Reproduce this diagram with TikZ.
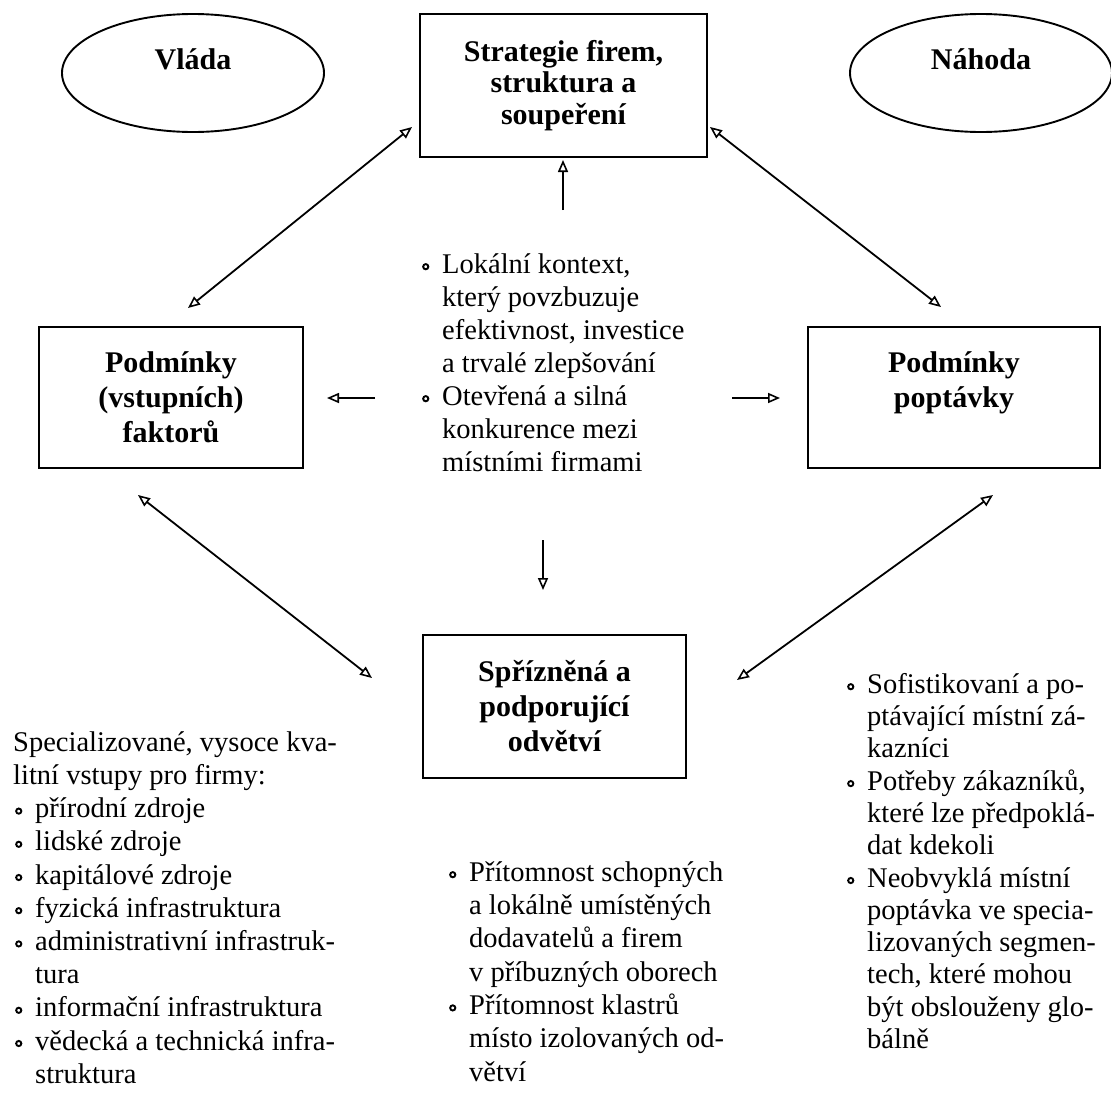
\documentclass[tikz,border=0pt]{standalone}
\usepackage{fontspec}
\setmainfont{Liberation Serif}
\usetikzlibrary{arrows.meta,shapes.geometric}
\newcommand\blt{\makebox[20pt][l]{\tikz[baseline={(0,-6.5pt)}]\draw[line width=1.9pt] (0,0) circle (2.6pt);}}
\newcommand\ind{\hspace*{20pt}}
\newcommand\fst{\rule{0pt}{25pt}}
\tikzset{
  boxnode/.style={draw, line width=2.3pt, align=center, inner sep=0pt,
    font=\bfseries\fontsize{30}{35}\selectfont},
  ellnode/.style={draw, ellipse, line width=1.9pt, inner sep=0pt,
    minimum width=262pt, minimum height=118pt, text height=20pt, text depth=28pt,
    font=\bfseries\fontsize{30}{35}\selectfont},
  txt/.style={align=left, inner sep=0pt, anchor=north west},
  arr/.style={line width=1.8pt, -{Triangle[open, length=12pt, width=10pt, line width=1.6pt]}},
  dbl/.style={line width=1.8pt, {Triangle[open, length=12pt, width=10pt, line width=1.6pt]}-{Triangle[open, length=12pt, width=10pt, line width=1.6pt]}}
}
\begin{document}
\begin{tikzpicture}[x=1pt,y=-1pt]
\useasboundingbox (0,0) rectangle (1111,1095);
\fill[white] (0,0) rectangle (1111,1095);

% ellipses
\node[ellnode] (V) at (193,73) {Vláda};
\node[ellnode] (N) at (981,73) {Náhoda};

% boxes
\node[boxnode, minimum width=287pt, minimum height=143pt,
  font=\bfseries\fontsize{30}{31.5}\selectfont] (S) at (563.5,85.5)
  {Strategie firem,\\struktura a\\soupeření};
\node[boxnode, minimum width=264pt, minimum height=141pt] (F) at (171,397.5)
  {Podmínky\\(vstupních)\\faktorů};
\node[boxnode, minimum width=292pt, minimum height=141pt] (P) at (954,397.5)
  {Podmínky\\poptávky\\\mbox{}};
\node[boxnode, minimum width=263pt, minimum height=143pt] (R) at (554.5,706.5)
  {Spřízněná a\\podporující\\odvětví};

% text blocks
\node[txt, font=\fontsize{28.5}{33}\selectfont] (C) at (422,248)
  {\fst\blt Lokální kontext,\\
   \ind který povzbuzuje\\
   \ind efektivnost, investice\\
   \ind a trvalé zlepšování\\
   \blt Otevřená a silná\\
   \ind konkurence mezi\\
   \ind místními firmami};

\node[txt, font=\fontsize{28.5}{33.2}\selectfont] (LT) at (13,726)
  {\fst Specializované, vysoce kva-\\
   litní vstupy pro firmy:\\
   \hspace*{2pt}\blt přírodní zdroje\\
   \hspace*{2pt}\blt lidské zdroje\\
   \hspace*{2pt}\blt kapitálové zdroje\\
   \hspace*{2pt}\blt fyzická infrastruktura\\
   \hspace*{2pt}\blt administrativní infrastruk-\\
   \hspace*{22pt}tura\\
   \hspace*{2pt}\blt informační infrastruktura\\
   \hspace*{2pt}\blt vědecká a technická infra-\\
   \hspace*{22pt}struktura};

\node[txt, font=\fontsize{28.5}{33.3}\selectfont] (MT) at (449,856)
  {\fst\blt Přítomnost schopných\\
   \ind a lokálně umístěných\\
   \ind dodavatelů a firem\\
   \ind v příbuzných oborech\\
   \blt Přítomnost klastrů\\
   \ind místo izolovaných od-\\
   \ind větví};

\node[txt, font=\fontsize{28.5}{32.3}\selectfont] (RT) at (847,668)
  {\fst\blt Sofistikovaní a po-\\
   \ind ptávající místní zá-\\
   \ind kazníci\\
   \blt Potřeby zákazníků,\\
   \ind které lze předpoklá-\\
   \ind dat kdekoli\\
   \blt Neobvyklá místní\\
   \ind poptávka ve specia-\\
   \ind lizovaných segmen-\\
   \ind tech, které mohou\\
   \ind být obslouženy glo-\\
   \ind bálně};

% connector end points
\coordinate (s-l) at (412,127); \coordinate (f-t) at (188,308);
\coordinate (s-r) at (710,127); \coordinate (p-t) at (941,307);
\coordinate (s-b) at (563,160); \coordinate (c-t) at (563,210);
\coordinate (c-l) at (375,398); \coordinate (f-r) at (327,398);
\coordinate (c-r) at (732,398); \coordinate (p-l) at (780,398);
\coordinate (c-b) at (543,540); \coordinate (r-t) at (543,590);
\coordinate (f-b) at (138,495); \coordinate (r-l) at (372,678);
\coordinate (p-b) at (993,495); \coordinate (r-r) at (737,680);

\draw[dbl] (f-t) -- (s-l);
\draw[dbl] (p-t) -- (s-r);
\draw[arr] (c-t) -- (s-b);
\draw[arr] (c-l) -- (f-r);
\draw[arr] (c-r) -- (p-l);
\draw[arr] (c-b) -- (r-t);
\draw[dbl] (f-b) -- (r-l);
\draw[dbl] (p-b) -- (r-r);
\end{tikzpicture}
\end{document}
